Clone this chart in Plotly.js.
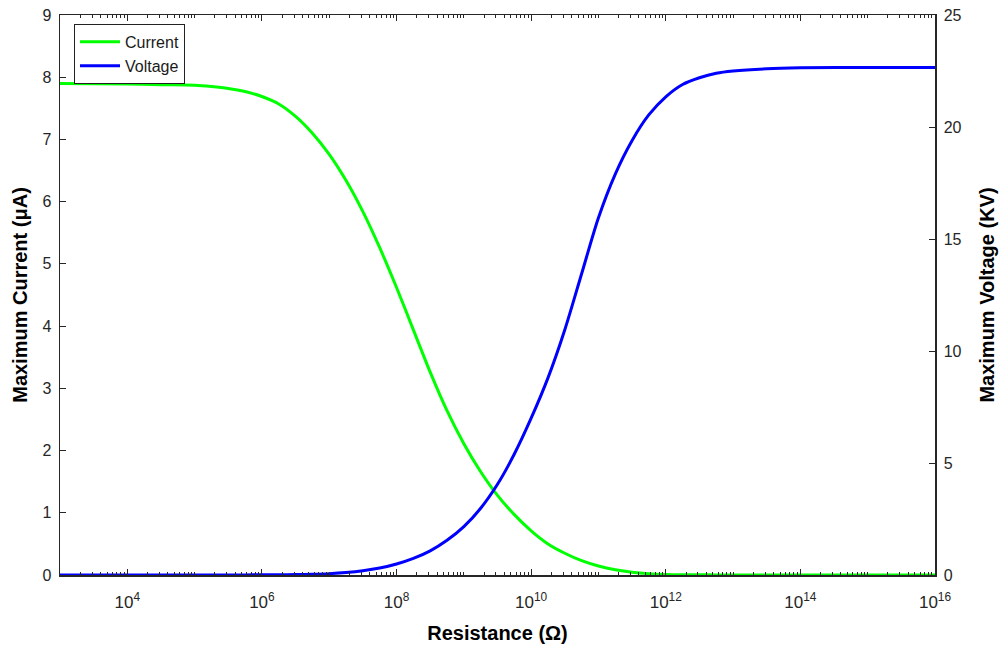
<!DOCTYPE html>
<html>
<head>
<meta charset="utf-8">
<script src="https://cdn.plot.ly/plotly-3.0.1.min.js"></script>
<style>
  html, body { margin: 0; padding: 0; background: #fff; }
  #chart { width: 1008px; height: 646px; }
</style>
</head>
<body>
<div id="chart"></div>
<script>
// Resistance sample points, as powers of ten (Ohm)
const logResistance = [3, 4, 4.5, 5, 5.25, 5.5, 5.75, 6, 6.25, 6.5, 6.75, 7, 7.25, 7.5, 7.75, 8,
  8.25, 8.5, 8.75, 9, 9.25, 9.5, 9.75, 10, 10.25, 10.5, 10.75, 11, 11.25, 11.5, 11.75, 12,
  12.25, 12.5, 12.75, 13, 13.5, 14, 15, 16];

// Maximum current (uA) at each resistance
const currentUA = [7.90, 7.89, 7.88, 7.87, 7.85, 7.82, 7.77, 7.69, 7.57, 7.37, 7.10, 6.76, 6.34, 5.84, 5.26, 4.62,
  3.94, 3.26, 2.64, 2.11, 1.66, 1.28, 0.97, 0.71, 0.50, 0.35, 0.23, 0.145, 0.085, 0.045, 0.022, 0.010,
  0.005, 0.003, 0.002, 0.001, 0, 0, 0, 0];

// Maximum voltage (kV) at each resistance
const voltageKV = [0, 0, 0, 0, 0.001, 0.002, 0.004, 0.008, 0.013, 0.02, 0.035, 0.06, 0.11, 0.19, 0.31, 0.49,
  0.74, 1.08, 1.55, 2.16, 2.98, 4.05, 5.4, 7.0, 8.8, 10.95, 13.45, 15.95, 17.9, 19.4, 20.55, 21.35,
  21.9, 22.2, 22.4, 22.5, 22.6, 22.64, 22.66, 22.66];

const xTickPowers = [4, 6, 8, 10, 12, 14, 16];

const resistance = logResistance.map(p => Math.pow(10, p));

const fontFamily = 'Liberation Sans, Arial, sans-serif';
const tickFont = { family: fontFamily, size: 16, color: '#262626' };
const xTickFont = { family: fontFamily, size: 17, color: '#262626' };
const titleFont = { family: fontFamily, size: 20, color: '#000', weight: 'bold' };

const traces = [
  {
    x: resistance, y: currentUA, name: 'Current', type: 'scatter', mode: 'lines',
    line: { color: '#00ff00', width: 3, shape: 'spline', smoothing: 0.8 },
    yaxis: 'y'
  },
  {
    x: resistance, y: voltageKV, name: 'Voltage', type: 'scatter', mode: 'lines',
    line: { color: '#0000ff', width: 3, shape: 'spline', smoothing: 0.8 },
    yaxis: 'y2'
  }
];

const layout = {
  width: 1008, height: 646,
  margin: { l: 60, r: 73, t: 15, b: 71 },
  paper_bgcolor: '#fff', plot_bgcolor: '#fff',
  showlegend: true,
  legend: {
    x: 0.016, y: 0.984, xanchor: 'left', yanchor: 'top',
    bgcolor: '#fff', bordercolor: '#222', borderwidth: 1,
    font: { family: fontFamily, size: 16, color: '#1a1a1a' },
    itemwidth: 40, tracegroupgap: 0
  },
  xaxis: {
    type: 'log', range: [3, 16],
    tickvals: xTickPowers.map(p => Math.pow(10, p)),
    ticktext: xTickPowers.map(p => '10<sup>' + p + '</sup>'),
    ticks: 'inside', ticklen: 6, tickcolor: '#262626', tickwidth: 1,
    ticklabelstandoff: 11,
    minor: { ticks: 'inside', ticklen: 3, tickcolor: '#262626', dtick: 'D1', showgrid: false },
    showline: true, linecolor: '#262626', linewidth: 1.5, mirror: 'ticks',
    showgrid: false, zeroline: false,
    tickfont: xTickFont,
    title: { text: 'Resistance (Ω)', font: titleFont, standoff: 15 }
  },
  yaxis: {
    range: [0, 9], dtick: 1,
    ticks: 'inside', ticklen: 6, tickcolor: '#262626',
    ticklabelstandoff: 4,
    showline: true, linecolor: '#262626', linewidth: 1.5, mirror: false,
    showgrid: false, zeroline: false,
    tickfont: tickFont,
    title: { text: 'Maximum Current (μA)', font: titleFont, standoff: 9 }
  },
  yaxis2: {
    range: [0, 25], dtick: 5, overlaying: 'y', side: 'right',
    ticks: 'inside', ticklen: 6, tickcolor: '#262626',
    ticklabelstandoff: 4,
    showline: true, linecolor: '#262626', linewidth: 1.5,
    showgrid: false, zeroline: false,
    tickfont: tickFont,
    title: { text: 'Maximum Voltage (KV)', font: titleFont, standoff: 19 }
  }
};

Plotly.newPlot('chart', traces, layout, { displayModeBar: false, staticPlot: true });
</script>
</body>
</html>
